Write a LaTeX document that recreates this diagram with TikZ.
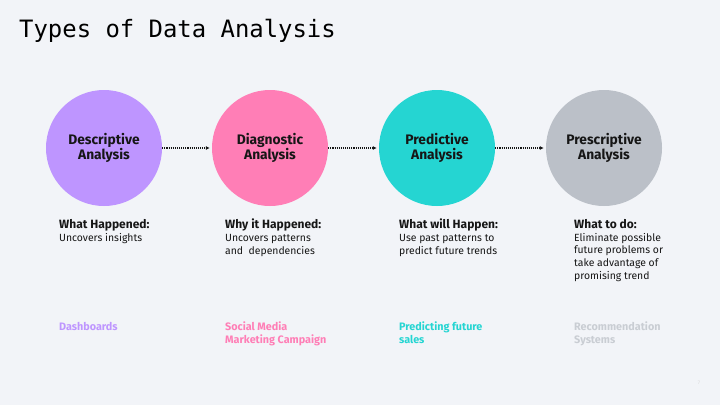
\documentclass[tikz,border=0pt]{standalone}
\usepackage{fontspec}
\setmainfont{Fira Sans}
\newfontfamily\titlefont{DejaVu Sans Mono}
\usetikzlibrary{arrows.meta}
\definecolor{bg}{HTML}{F2F4F8}
\definecolor{cpurple}{HTML}{BE95FF}
\definecolor{cpink}{HTML}{FF7EB6}
\definecolor{cteal}{HTML}{25D5D2}
\definecolor{cgray}{HTML}{BBC0C8}
\definecolor{ink}{HTML}{161616}
\newcommand{\hd}[1]{{\fontsize{12}{13}\selectfont\bfseries #1}}
\tikzset{
  stage/.style={circle, minimum size=116pt, inner sep=0pt, align=center,
    font=\fontsize{13.8}{15}\selectfont\bfseries, text=ink},
  flow/.style={densely dotted, line width=1.1pt, draw=ink, -{Latex[length=4pt,width=4pt]}, shorten >=2pt},
  desc/.style={anchor=north west, align=left, inner sep=0pt, text=ink,
    font=\fontsize{10.4}{12.8}\selectfont},
  example/.style={anchor=north west, align=left, inner sep=0pt,
    font=\fontsize{10.8}{12.2}\selectfont\bfseries},
}
\begin{document}
\begin{tikzpicture}[x=1pt,y=-1pt]
\fill[bg] (0,0) rectangle (720,405);
\useasboundingbox (0,0) rectangle (720,405);
\node[anchor=base west, inner sep=0pt, font=\titlefont\fontsize{23.9}{28}\selectfont, text=black] (title) at (19,37) {Types of Data Analysis};

\node[stage, fill=cpurple] (c1) at (104,148) {Descriptive\\Analysis};
\node[stage, fill=cpink] (c2) at (270,148) {Diagnostic\\Analysis};
\node[stage, fill=cteal] (c3) at (437,148) {Predictive\\Analysis};
\node[stage, fill=cgray] (c4) at (604,148) {Prescriptive\\Analysis};

\draw[flow] (c1) -- (c2);
\draw[flow] (c2) -- (c3);
\draw[flow] (c3) -- (c4);

\node[desc] (d1) at (59,219) {\hd{What Happened:}\\Uncovers insights};
\node[desc] (d2) at (225,219) {\hd{Why it Happened:}\\Uncovers patterns\\and\ \ dependencies};
\node[desc] (d3) at (399,219) {\hd{What will Happen:}\\Use past patterns to\\predict future trends};
\node[desc] (d4) at (574,219) {\hd{What to do:}\\Eliminate possible\\future problems or\\take advantage of\\promising trend};

\node[example, text=cpurple] (e1) at (59,322) {Dashboards};
\node[example, text=cpink] (e2) at (225,322) {Social Media\\Marketing Campaign};
\node[example, text=cteal] (e3) at (399,322) {Predicting future\\sales};
\node[example, text=cgray!80] (e4) at (574,322) {Recommendation\\Systems};

\node[inner sep=0pt, font=\fontsize{5}{6}\selectfont, text=black!15] (pg) at (699,383) {7};
\end{tikzpicture}
\end{document}
